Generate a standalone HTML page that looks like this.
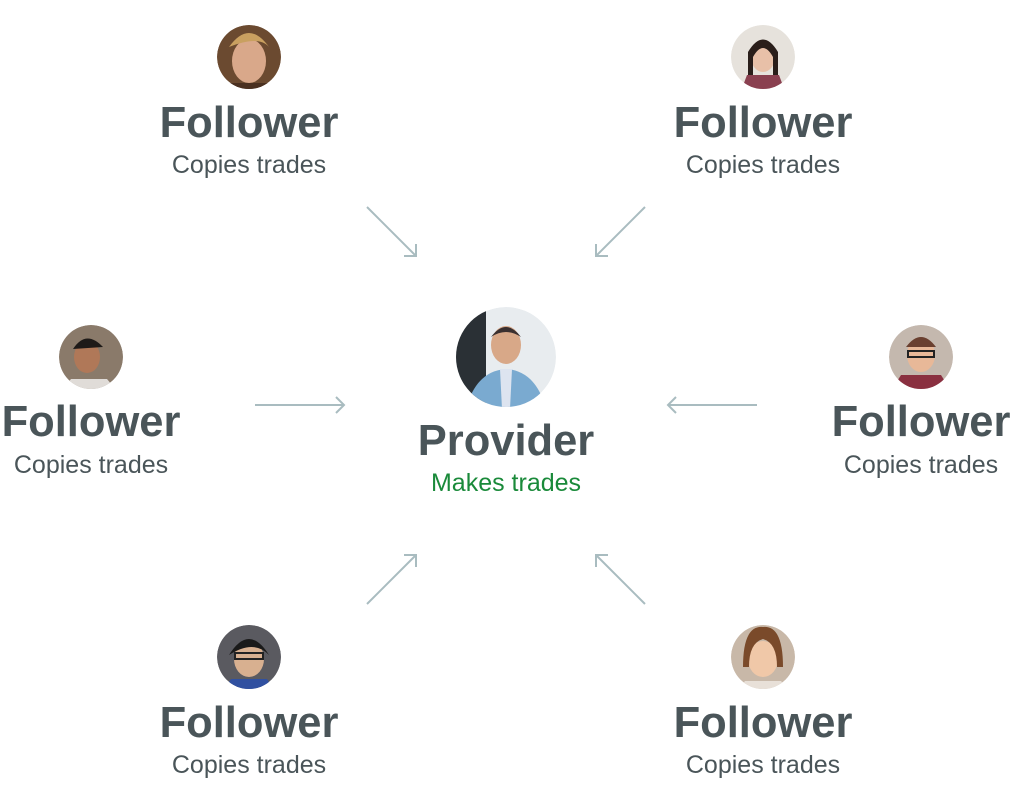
<!DOCTYPE html>
<html><head><style>
html,body{margin:0;padding:0;background:#fff;}
svg{display:block}
.t{font-family:"Liberation Sans",sans-serif;font-weight:bold;font-size:43.5px;fill:#4a5559;text-anchor:middle}
.s{font-family:"Liberation Sans",sans-serif;font-size:25px;fill:#4a5559;text-anchor:middle}
.g{fill:#1a8a3a}
.a{stroke:#a9bcc0;stroke-width:2;fill:none}
</style></head><body>
<svg width="1012" height="811" viewBox="0 0 1012 811">
<defs>
<clipPath id="c"><circle cx="0" cy="0" r="32"/></clipPath>
<clipPath id="cb"><circle cx="0" cy="0" r="50"/></clipPath>
</defs>
<g transform="translate(249,57)" clip-path="url(#c)"><circle r="32" fill="#6b4a30"/><ellipse cx="0" cy="4" rx="17" ry="22" fill="#d9a88a"/><path d="M-20,-10 Q0,-38 20,-10 Q10,-22 -20,-10Z" fill="#c9a060"/><path d="M-30,34 L-20,26 L20,26 L30,34Z" fill="#4a3020"/></g>
<g transform="translate(763,57)" clip-path="url(#c)"><circle r="32" fill="#e6e2dc"/><ellipse cx="0" cy="0" rx="12" ry="15" fill="#e8c0a8"/><path d="M-15,-5 Q0,-30 15,-5 L15,25 L10,25 L10,0 Q0,-18 -10,0 L-10,25 L-15,25Z" fill="#2a1e1a"/><path d="M-22,34 L-16,18 L16,18 L22,34Z" fill="#8a4050"/></g>
<g transform="translate(91,357)" clip-path="url(#c)"><circle r="32" fill="#8a7a6a"/><ellipse cx="-4" cy="0" rx="13" ry="16" fill="#b07858"/><path d="M-18,-8 Q-5,-28 12,-10 Z" fill="#1e1a18"/><path d="M-30,34 L-20,22 L16,22 L26,34Z" fill="#e0dcd8"/></g>
<g transform="translate(921,357)" clip-path="url(#c)"><circle r="32" fill="#c4b8ae"/><ellipse cx="0" cy="-2" rx="14" ry="17" fill="#e8b898"/><path d="M-15,-10 Q0,-30 15,-10Z" fill="#6a4030"/><rect x="-13" y="-6" width="26" height="6" fill="none" stroke="#222" stroke-width="2"/><path d="M-30,34 L-20,18 L20,18 L30,34Z" fill="#8a3040"/></g>
<g transform="translate(249,657)" clip-path="url(#c)"><circle r="32" fill="#5a5a60"/><ellipse cx="0" cy="2" rx="15" ry="18" fill="#d8b090"/><path d="M-20,-2 Q0,-34 20,-2 Q5,-18 -20,-2Z" fill="#1a1a1a"/><rect x="-14" y="-4" width="28" height="6" fill="none" stroke="#222" stroke-width="2"/><path d="M-26,34 L-18,22 L18,22 L26,34Z" fill="#3050a0"/></g>
<g transform="translate(763,657)" clip-path="url(#c)"><circle r="32" fill="#c8b8a8"/><ellipse cx="0" cy="2" rx="15" ry="18" fill="#f0c8a8"/><path d="M-20,10 Q-20,-32 0,-30 Q20,-32 20,10 L14,10 Q14,-14 0,-18 Q-14,-14 -14,10Z" fill="#7a4a2a"/><path d="M-26,34 L-18,24 L18,24 L26,34Z" fill="#e8e0d8"/></g>
<g transform="translate(506,357)" clip-path="url(#cb)"><circle r="50" fill="#e8ecef"/><path d="M-50,-50 L-20,-50 L-20,50 L-50,50Z" fill="#2a3035"/><ellipse cx="0" cy="-12" rx="15" ry="19" fill="#d8a888"/><path d="M-15,-20 Q0,-40 15,-20 Q0,-30 -15,-20Z" fill="#3a3030"/><path d="M-40,52 Q-30,14 0,12 Q30,14 40,52Z" fill="#7aaad0"/><path d="M-6,12 L6,12 L4,52 L-4,52Z" fill="#dde4f0"/></g>
<g class="a">
<path d="M367,207 L416,256 M416,244 L416,256 L404,256"/>
<path d="M645,207 L596,256 M596,244 L596,256 L608,256"/>
<path d="M255,405 L344,405 M336,397 L344,405 L336,413"/>
<path d="M757,405 L668,405 M676,397 L668,405 L676,413"/>
<path d="M367,604 L416,555 M404,555 L416,555 L416,567"/>
<path d="M645,604 L596,555 M608,555 L596,555 L596,567"/>
</g>
<text class="t" x="249" y="137">Follower</text><text class="s" x="249" y="173">Copies trades</text>
<text class="t" x="763" y="137">Follower</text><text class="s" x="763" y="173">Copies trades</text>
<text class="t" x="91" y="436">Follower</text><text class="s" x="91" y="473">Copies trades</text>
<text class="t" x="921" y="436">Follower</text><text class="s" x="921" y="473">Copies trades</text>
<text class="t" x="249" y="737">Follower</text><text class="s" x="249" y="773">Copies trades</text>
<text class="t" x="763" y="737">Follower</text><text class="s" x="763" y="773">Copies trades</text>
<text class="t" x="506" y="455">Provider</text><text class="s g" x="506" y="491">Makes trades</text>
</svg>
</body></html>
